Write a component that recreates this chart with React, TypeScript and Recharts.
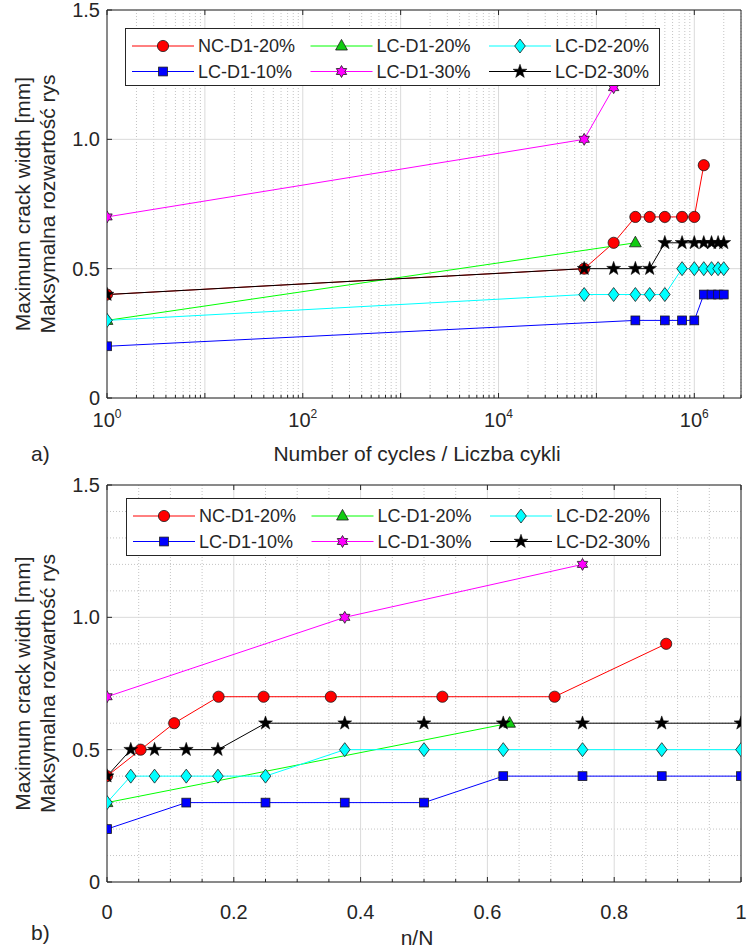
import React from "react";
import { LineChart, Line, XAxis, YAxis, CartesianGrid, Legend, Label } from "recharts";

const FONT = "'Liberation Sans', Arial, Helvetica, sans-serif";
const INK = "#262626";
const EDGE = "#1a1a1a";

// legend order
const seriesNames = ["NC-D1-20%", "LC-D1-20%", "LC-D2-20%", "LC-D1-10%", "LC-D1-30%", "LC-D2-30%"];

// number of cycles at each reading (panel a)
const cyclesNcD1_20 = [1, 75000, 150000, 250000, 350000, 500000, 750000, 1000000, 1250000];
const cyclesLcD1_20 = [1, 250000];
const cyclesLcD2_20 = [1, 75000, 150000, 250000, 350000, 500000, 750000, 1000000, 1250000, 1500000, 1750000, 2000000];
const cyclesLcD1_10 = [1, 250000, 500000, 750000, 1000000, 1250000, 1500000, 1750000, 2000000];
const cyclesLcD1_30 = [1, 75000, 150000];
const cyclesLcD2_30 = [1, 75000, 150000, 250000, 350000, 500000, 750000, 1000000, 1250000, 1500000, 1750000, 2000000];

// relative life n/N at each reading (panel b)
const nNNcD1_20 = [0, 0.053, 0.106, 0.176, 0.247, 0.353, 0.529, 0.706, 0.882];
const nNLcD1_20 = [0, 0.635];
const nNLcD2_20 = [0, 0.0375, 0.075, 0.125, 0.175, 0.25, 0.375, 0.5, 0.625, 0.75, 0.875, 1];
const nNLcD1_10 = [0, 0.125, 0.25, 0.375, 0.5, 0.625, 0.75, 0.875, 1];
const nNLcD1_30 = [0, 0.375, 0.75];
const nNLcD2_30 = [0, 0.0375, 0.075, 0.125, 0.175, 0.25, 0.375, 0.5, 0.625, 0.75, 0.875, 1];

// max crack width [mm]
const widthNcD1_20 = [0.4, 0.5, 0.6, 0.7, 0.7, 0.7, 0.7, 0.7, 0.9];
const widthLcD1_20 = [0.3, 0.6];
const widthLcD2_20 = [0.3, 0.4, 0.4, 0.4, 0.4, 0.4, 0.5, 0.5, 0.5, 0.5, 0.5, 0.5];
const widthLcD1_10 = [0.2, 0.3, 0.3, 0.3, 0.3, 0.4, 0.4, 0.4, 0.4];
const widthLcD1_30 = [0.7, 1.0, 1.2];
const widthLcD2_30 = [0.4, 0.5, 0.5, 0.5, 0.5, 0.6, 0.6, 0.6, 0.6, 0.6, 0.6, 0.6];

// ticks
const logTicks = [1, 10, 100, 1e3, 1e4, 1e5, 1e6];
const logMinorTicks: number[] = [];
for (let e = 0; e <= 6; e++) {
  for (let m = 2; m <= 9; m++) {
    if (m * 10 ** e <= 3e6) logMinorTicks.push(m * 10 ** e);
  }
}
const logAllTicks = [...logTicks, ...logMinorTicks].sort((a, b) => a - b);
const widthTicks = [0, 0.5, 1, 1.5];
const widthMinorTicks = [0.1, 0.2, 0.3, 0.4, 0.6, 0.7, 0.8, 0.9, 1.1, 1.2, 1.3, 1.4];
const nNTicks = [0, 0.2, 0.4, 0.6, 0.8, 1];
const nNMinorTicks = [0.05, 0.1, 0.15, 0.25, 0.3, 0.35, 0.45, 0.5, 0.55, 0.65, 0.7, 0.75, 0.85, 0.9, 0.95];
const nNAllTicks = [...nNTicks, ...nNMinorTicks].sort((a, b) => a - b);

type Shape = "circle" | "triangle" | "diamond" | "square" | "hexagram" | "star";

const series = [
  { name: seriesNames[0], color: "#ff0000", face: "#ff0000", shape: "circle" as Shape, cycles: cyclesNcD1_20, nN: nNNcD1_20, w: widthNcD1_20 },
  { name: seriesNames[1], color: "#00ff00", face: "#11cc11", shape: "triangle" as Shape, cycles: cyclesLcD1_20, nN: nNLcD1_20, w: widthLcD1_20 },
  { name: seriesNames[2], color: "#00ffff", face: "#00ffff", shape: "diamond" as Shape, cycles: cyclesLcD2_20, nN: nNLcD2_20, w: widthLcD2_20 },
  { name: seriesNames[3], color: "#0000ff", face: "#0000ff", shape: "square" as Shape, cycles: cyclesLcD1_10, nN: nNLcD1_10, w: widthLcD1_10 },
  { name: seriesNames[4], color: "#ff00ff", face: "#ff00ff", shape: "hexagram" as Shape, cycles: cyclesLcD1_30, nN: nNLcD1_30, w: widthLcD1_30 },
  { name: seriesNames[5], color: "#000000", face: "#000000", shape: "star" as Shape, cycles: cyclesLcD2_30, nN: nNLcD2_30, w: widthLcD2_30 },
];

function starPoints(cx: number, cy: number, n: number, ro: number, ri: number) {
  const pts: string[] = [];
  for (let k = 0; k < 2 * n; k++) {
    const r = k % 2 === 0 ? ro : ri;
    const a = -Math.PI / 2 + (k * Math.PI) / n;
    pts.push(`${cx + r * Math.cos(a)},${cy + r * Math.sin(a)}`);
  }
  return pts.join(" ");
}

function Marker({ shape, face, cx, cy }: { shape: Shape; face: string; cx: number; cy: number }) {
  const common = { fill: face, stroke: EDGE, strokeWidth: 0.8 };
  switch (shape) {
    case "circle":
      return <circle cx={cx} cy={cy} r={5.6} {...common} />;
    case "triangle":
      return <polygon points={`${cx},${cy - 6.6} ${cx + 5.9},${cy + 4} ${cx - 5.9},${cy + 4}`} {...common} />;
    case "diamond":
      return <polygon points={`${cx},${cy - 7} ${cx + 5.3},${cy} ${cx},${cy + 7} ${cx - 5.3},${cy}`} {...common} />;
    case "square":
      return <rect x={cx - 4.4} y={cy - 4.4} width={8.8} height={8.8} {...common} />;
    case "hexagram":
      return <polygon points={starPoints(cx, cy, 6, 6, 3.45)} {...common} />;
    default:
      return <polygon points={starPoints(cx, cy, 5, 7.3, 2.9)} fill="#000" stroke="#000" strokeWidth={0.5} />;
  }
}

function LegendBox() {
  return (
    <svg width={535} height={58} style={{ display: "block" }}>
      <rect x={0.5} y={0.5} width={534} height={57} fill="#fff" stroke={INK} strokeWidth={1} />
      {series.map((s, i) => {
        const x0 = 7 + (i % 3) * 178.5;
        const y = 18 + Math.floor(i / 3) * 25.5;
        return (
          <g key={s.name}>
            <line x1={x0} x2={x0 + 62} y1={y} y2={y} stroke={s.color} strokeWidth={1} />
            <Marker shape={s.shape} face={s.face} cx={x0 + 31} cy={y} />
            <text x={x0 + 66} y={y} dy="0.36em" fontSize={18} fontFamily={FONT} fill={INK}>
              {s.name}
            </text>
          </g>
        );
      })}
    </svg>
  );
}

// bottom-axis tick: inward tick mark (long for major, short for minor) plus the label
function LogTick(props: any) {
  const { x, y, payload } = props;
  const e = Math.log10(payload.value);
  const major = Math.abs(e - Math.round(e)) < 1e-6;
  const er = Math.round(e);
  return (
    <g>
      <line x1={x} x2={x} y1={y} y2={y - (major ? 5 : 3)} stroke={INK} strokeWidth={1} />
      {major && er % 2 === 0 && (
        <text x={x} y={y + 29} textAnchor="middle" fill={INK} fontSize={20} fontFamily={FONT}>
          10
          <tspan dy={-9} fontSize={12}>
            {er}
          </tspan>
        </text>
      )}
    </g>
  );
}

function LinTick(props: any) {
  const { x, y, payload } = props;
  const v = payload.value;
  const major = Math.abs(v * 5 - Math.round(v * 5)) < 1e-6;
  return (
    <g>
      <line x1={x} x2={x} y1={y} y2={y - (major ? 5 : 3)} stroke={INK} strokeWidth={1} />
      {major && (
        <text x={x} y={y + 37} textAnchor="middle" fill={INK} fontSize={20} fontFamily={FONT}>
          {String(v)}
        </text>
      )}
    </g>
  );
}

const yLabel = (props: any) => {
  const vb = props.viewBox;
  const cy = vb.y + vb.height / 2;
  return (
    <g fontFamily={FONT} fontSize={21} fill={INK} textAnchor="middle">
      <text transform={`translate(30, ${cy}) rotate(-90)`}>Maximum crack width [mm]</text>
      <text transform={`translate(55, ${cy}) rotate(-90)`}>Maksymalna rozwartość rys</text>
    </g>
  );
};

const xLabel = (text: string, tag: string, baseY: number, tagY: number) => () => (
  <g fontFamily={FONT} fontSize={21} fill={INK}>
    <text x={417} y={baseY} textAnchor="middle">
      {text}
    </text>
    <text x={31} y={tagY}>
      {tag}
    </text>
  </g>
);

const fmtW = (v: number) => (v === 0 ? "0" : v.toFixed(1));
const tickStyle = { fill: INK, fontSize: 20, fontFamily: FONT };
const blank = () => "";

function renderLines(xKey: "cycles" | "nN") {
  return series.map((s) => (
    <Line
      key={s.name}
      name={s.name}
      data={s[xKey].map((x, i) => ({ x, w: s.w[i] }))}
      dataKey="w"
      stroke={s.color}
      strokeWidth={1}
      dot={(p: any) => <Marker key={`${s.name}-${p.index}`} shape={s.shape} face={s.face} cx={p.cx} cy={p.cy} />}
      activeDot={false}
      legendType="none"
      isAnimationActive={false}
    />
  ));
}

function CyclesPanel() {
  return (
    <LineChart width={752} height={474} margin={{ top: 9, right: 10, bottom: 46, left: 47 }}>
      <CartesianGrid verticalValues={logMinorTicks} horizontal={false} stroke="#c4c4c4" strokeDasharray="1 2" />
      <CartesianGrid verticalValues={logTicks} horizontalValues={widthTicks} stroke="#dadada" />
      <XAxis
        type="number"
        dataKey="x"
        scale="log"
        domain={[1, 3e6]}
        ticks={logAllTicks}
        interval={0}
        allowDataOverflow
        height={30}
        stroke={INK}
        tickLine={false}
        tickSize={0}
        tickMargin={0}
        tick={<LogTick />}
      >
        <Label content={xLabel("Number of cycles / Liczba cykli", "a)", 461, 461)} />
      </XAxis>
      <XAxis xAxisId="top" orientation="top" type="number" dataKey="x" scale="log" domain={[1, 3e6]} ticks={logTicks} interval={0} allowDataOverflow height={1} stroke={INK} tickSize={-5} tickFormatter={blank} />
      <YAxis type="number" domain={[0, 1.5]} ticks={widthTicks} interval={0} width={60} stroke={INK} tickSize={-5} tickMargin={12} tick={tickStyle} tickFormatter={fmtW}>
        <Label content={yLabel} />
      </YAxis>
      <YAxis yAxisId="right" orientation="right" type="number" domain={[0, 1.5]} ticks={widthTicks} interval={0} width={1} stroke={INK} tickSize={-5} tickFormatter={blank} />
      {renderLines("cycles")}
      <Legend layout="horizontal" verticalAlign="middle" align="center" content={() => <LegendBox />} wrapperStyle={{ left: 125, top: 28, width: 535, height: 58 }} />
    </LineChart>
  );
}

function RelativePanel() {
  return (
    <LineChart width={752} height={474} margin={{ top: 10, right: 10, bottom: 36, left: 47 }}>
      <CartesianGrid verticalValues={nNMinorTicks} horizontalValues={widthMinorTicks} stroke="#c4c4c4" strokeDasharray="1 2" />
      <CartesianGrid verticalValues={nNTicks} horizontalValues={widthTicks} stroke="#dadada" />
      <XAxis
        type="number"
        dataKey="x"
        domain={[0, 1]}
        ticks={nNAllTicks}
        interval={0}
        allowDataOverflow
        height={30}
        stroke={INK}
        tickLine={false}
        tickSize={0}
        tickMargin={0}
        tick={<LinTick />}
      >
        <Label content={xLabel("n/N", "b)", 471, 466)} />
      </XAxis>
      <XAxis xAxisId="top" orientation="top" type="number" dataKey="x" domain={[0, 1]} ticks={nNTicks} interval={0} allowDataOverflow height={1} stroke={INK} tickSize={-5} tickFormatter={blank} />
      <YAxis type="number" domain={[0, 1.5]} ticks={widthTicks} interval={0} width={60} stroke={INK} tickSize={-5} tickMargin={12} tick={tickStyle} tickFormatter={fmtW}>
        <Label content={yLabel} />
      </YAxis>
      <YAxis yAxisId="right" orientation="right" type="number" domain={[0, 1.5]} ticks={widthTicks} interval={0} width={1} stroke={INK} tickSize={-5} tickFormatter={blank} />
      {renderLines("nN")}
      <Legend layout="horizontal" verticalAlign="middle" align="center" content={() => <LegendBox />} wrapperStyle={{ left: 126, top: 24, width: 535, height: 58 }} />
    </LineChart>
  );
}

export default function App() {
  return (
    <div style={{ position: "absolute", left: 0, top: 0, width: 752, height: 948, background: "#fff" }}>
      <div style={{ position: "absolute", left: 0, top: 0 }}>
        <CyclesPanel />
      </div>
      <div style={{ position: "absolute", left: 0, top: 474 }}>
        <RelativePanel />
      </div>
    </div>
  );
}
